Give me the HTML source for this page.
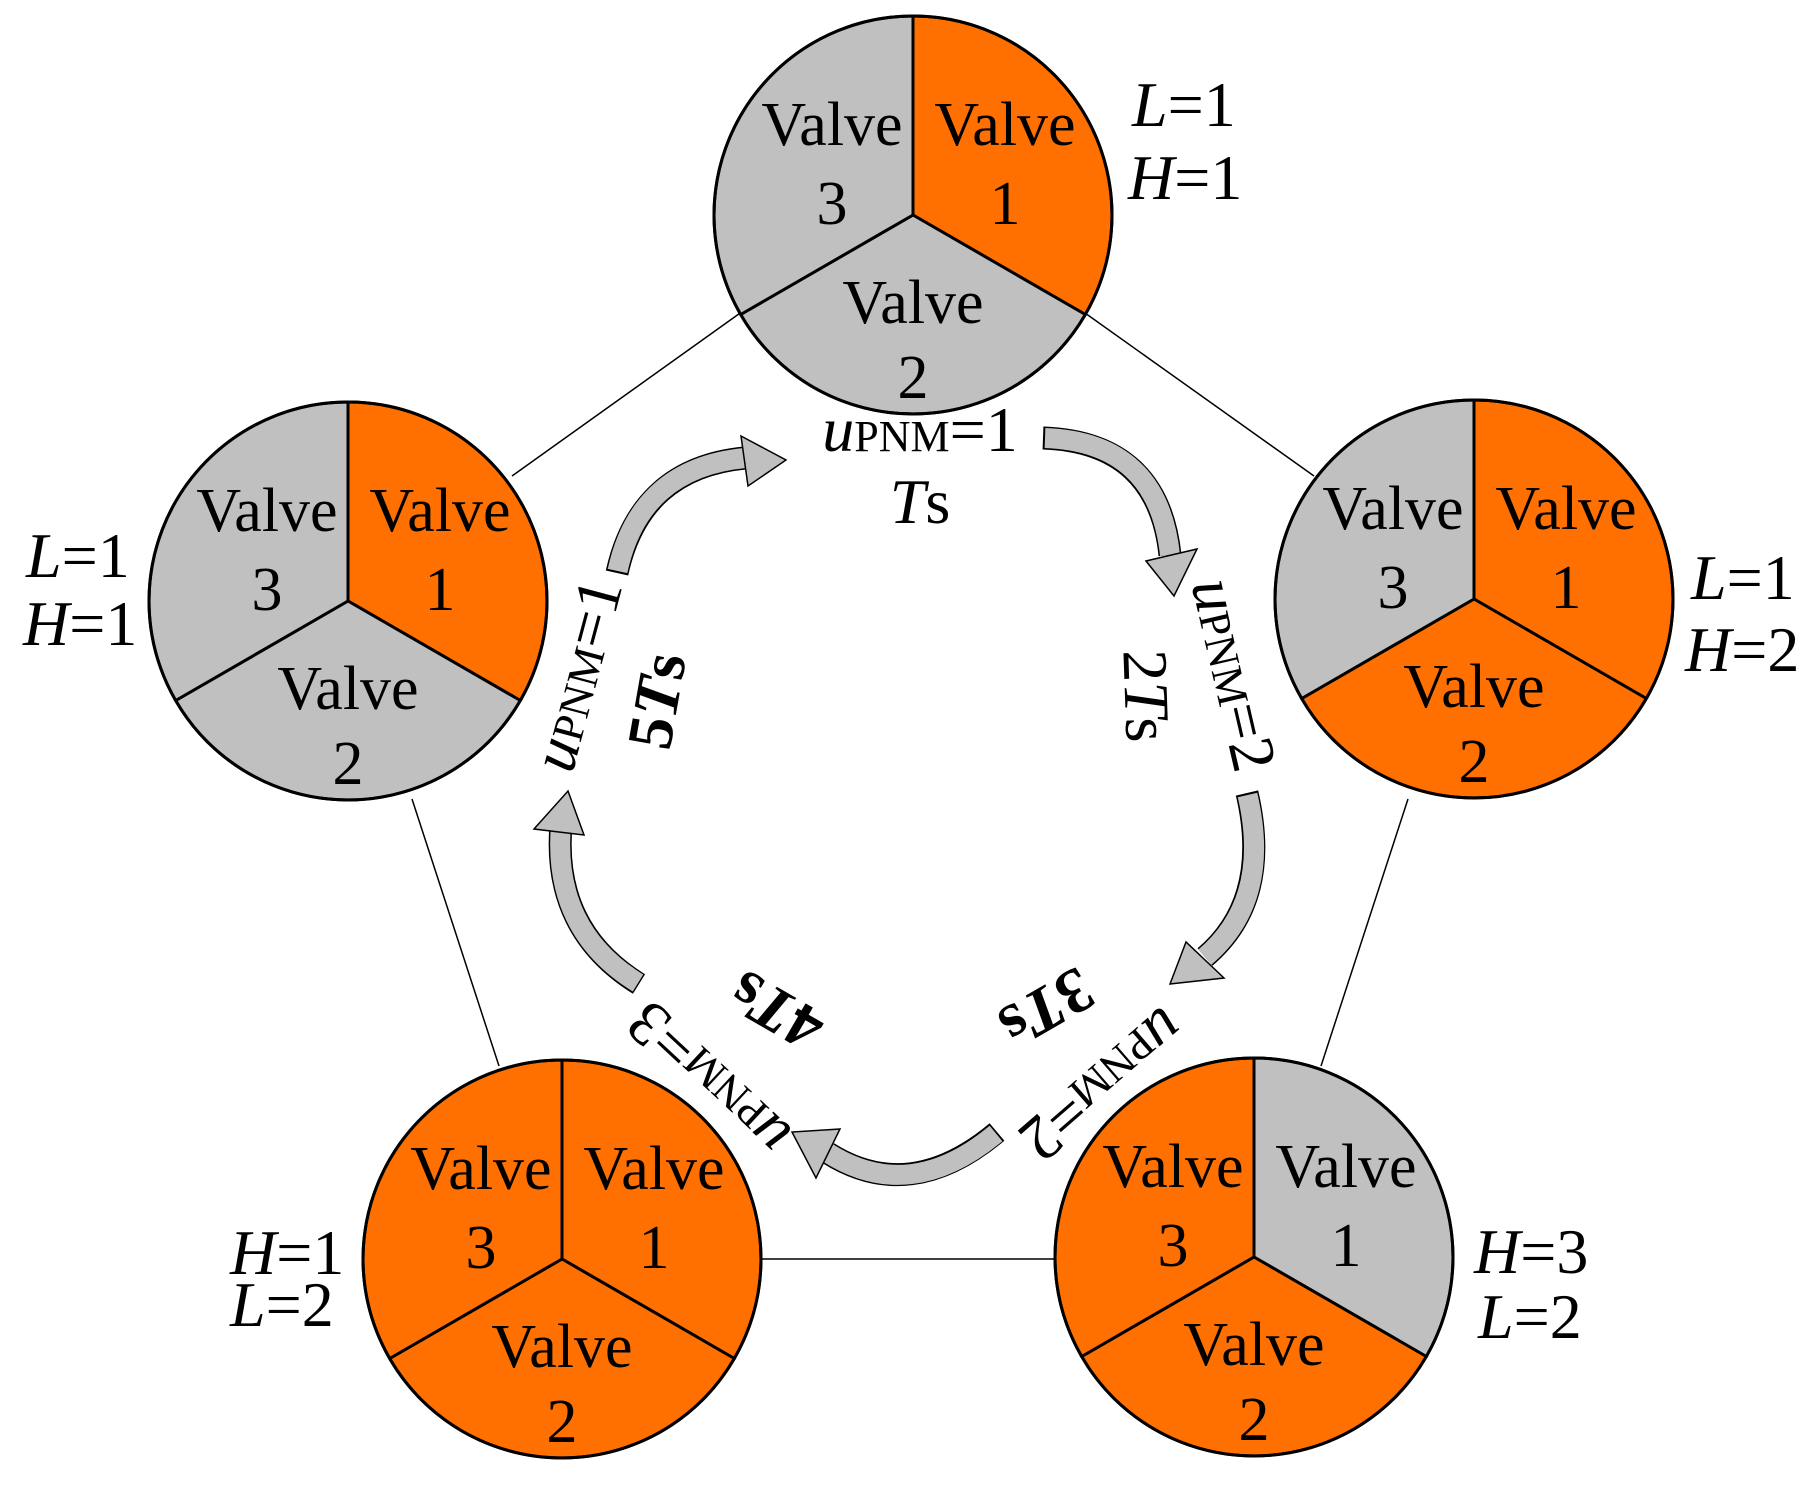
<!DOCTYPE html>
<html><head><meta charset="utf-8"><style>
html,body{margin:0;padding:0;background:#fff}
svg{display:block}
text{font-family:"Liberation Serif","Times New Roman",serif;fill:#000}
.v{font-size:62px;text-anchor:middle}
.s{font-size:64px}
.i{font-style:italic}
.r{font-size:64px;text-anchor:middle}
.b{font-weight:bold}
</style></head><body>
<svg width="1820" height="1486" viewBox="0 0 1820 1486" xmlns="http://www.w3.org/2000/svg" font-family="Liberation Serif, serif">
<g stroke="#000" stroke-width="1.5">
<line x1="743" y1="311" x2="512" y2="476"/>
<line x1="1085" y1="313" x2="1314" y2="476"/>
<line x1="412" y1="799" x2="499" y2="1066"/>
<line x1="1408" y1="799" x2="1321" y2="1066"/>
<line x1="760" y1="1259" x2="1054" y2="1259"/>
</g>
<g stroke="#000" stroke-width="3">
<path d="M913,215 L913,16 A199,199 0 0 1 1085.3,314.5 Z" fill="#FF7000"/>
<path d="M913,215 L1085.3,314.5 A199,199 0 0 1 740.7,314.5 Z" fill="#C0C0C0"/>
<path d="M913,215 L740.7,314.5 A199,199 0 0 1 913,16 Z" fill="#C0C0C0"/>
<circle cx="913" cy="215" r="199" fill="none"/>
<path d="M348,601 L348,402 A199,199 0 0 1 520.3,700.5 Z" fill="#FF7000"/>
<path d="M348,601 L520.3,700.5 A199,199 0 0 1 175.7,700.5 Z" fill="#C0C0C0"/>
<path d="M348,601 L175.7,700.5 A199,199 0 0 1 348,402 Z" fill="#C0C0C0"/>
<circle cx="348" cy="601" r="199" fill="none"/>
<path d="M1474,599 L1474,400 A199,199 0 0 1 1646.3,698.5 Z" fill="#FF7000"/>
<path d="M1474,599 L1646.3,698.5 A199,199 0 0 1 1301.7,698.5 Z" fill="#FF7000"/>
<path d="M1474,599 L1301.7,698.5 A199,199 0 0 1 1474,400 Z" fill="#C0C0C0"/>
<circle cx="1474" cy="599" r="199" fill="none"/>
<path d="M562,1259 L562,1060 A199,199 0 0 1 734.3,1358.5 Z" fill="#FF7000"/>
<path d="M562,1259 L734.3,1358.5 A199,199 0 0 1 389.7,1358.5 Z" fill="#FF7000"/>
<path d="M562,1259 L389.7,1358.5 A199,199 0 0 1 562,1060 Z" fill="#FF7000"/>
<circle cx="562" cy="1259" r="199" fill="none"/>
<path d="M1254,1257 L1254,1058 A199,199 0 0 1 1426.3,1356.5 Z" fill="#C0C0C0"/>
<path d="M1254,1257 L1426.3,1356.5 A199,199 0 0 1 1081.7,1356.5 Z" fill="#FF7000"/>
<path d="M1254,1257 L1081.7,1356.5 A199,199 0 0 1 1254,1058 Z" fill="#FF7000"/>
<circle cx="1254" cy="1257" r="199" fill="none"/>
</g>
<g>
<text x="1005" y="145" class="v">Valve</text><text x="1005" y="224" class="v">1</text>
<text x="832" y="145" class="v">Valve</text><text x="832" y="224" class="v">3</text>
<text x="913" y="323" class="v">Valve</text><text x="913" y="398" class="v">2</text>
<text x="440" y="531" class="v">Valve</text><text x="440" y="610" class="v">1</text>
<text x="267" y="531" class="v">Valve</text><text x="267" y="610" class="v">3</text>
<text x="348" y="709" class="v">Valve</text><text x="348" y="784" class="v">2</text>
<text x="1566" y="529" class="v">Valve</text><text x="1566" y="608" class="v">1</text>
<text x="1393" y="529" class="v">Valve</text><text x="1393" y="608" class="v">3</text>
<text x="1474" y="707" class="v">Valve</text><text x="1474" y="782" class="v">2</text>
<text x="654" y="1189" class="v">Valve</text><text x="654" y="1268" class="v">1</text>
<text x="481" y="1189" class="v">Valve</text><text x="481" y="1268" class="v">3</text>
<text x="562" y="1367" class="v">Valve</text><text x="562" y="1442" class="v">2</text>
<text x="1346" y="1187" class="v">Valve</text><text x="1346" y="1266" class="v">1</text>
<text x="1173" y="1187" class="v">Valve</text><text x="1173" y="1266" class="v">3</text>
<text x="1254" y="1365" class="v">Valve</text><text x="1254" y="1440" class="v">2</text>
</g>
<g>
<text x="1132" y="126" class="s"><tspan class="i">L</tspan>=1</text>
<text x="1128" y="199" class="s"><tspan class="i">H</tspan>=1</text>
<text x="26" y="577" class="s"><tspan class="i">L</tspan>=1</text>
<text x="23" y="645" class="s"><tspan class="i">H</tspan>=1</text>
<text x="1691" y="599" class="s"><tspan class="i">L</tspan>=1</text>
<text x="1685" y="671" class="s"><tspan class="i">H</tspan>=2</text>
<text x="230" y="1274" class="s"><tspan class="i">H</tspan>=1</text>
<text x="230" y="1326" class="s"><tspan class="i">L</tspan>=2</text>
<text x="1474" y="1273" class="s"><tspan class="i">H</tspan>=3</text>
<text x="1478" y="1338" class="s"><tspan class="i">L</tspan>=2</text>
</g>
<g fill="none" stroke-linecap="butt">
<g stroke="#000" stroke-width="23">
<path d="M617,573 Q640,468 745,458"/>
<path d="M1043,438 Q1158,442 1170,555"/>
<path d="M1247,793 Q1272,900 1205,957"/>
<path d="M997,1132 Q910,1205 828,1153"/>
<path d="M639,984 Q552,930 561,825"/>
</g>
<g stroke="#C0C0C0" stroke-width="20">
<path d="M617.5,571 Q640,468 745,458"/>
<path d="M1045,438 Q1158,442 1170,555"/>
<path d="M1247.5,795 Q1272,900 1205,957"/>
<path d="M996,1133.5 Q910,1205 828,1153"/>
<path d="M638,983 Q552,930 561,825"/>
</g>
</g>
<g fill="#C0C0C0" stroke="#000" stroke-width="1.5">
<polygon points="741,436 786,460 748,486"/>
<polygon points="1146,561 1174,596 1197,549"/>
<polygon points="1186,942 1170,984 1224,978"/>
<polygon points="840,1129 792,1132 816,1178"/>
<polygon points="534,829 568,791 584,835"/>
</g>
<text x="920" y="451" class="r"><tspan class="i">u</tspan><tspan font-size="44">PNM</tspan>=1</text>
<text x="920" y="523" class="r"><tspan class="i">T</tspan>s</text>
<g transform="translate(578,675) rotate(-75)"><text x="0" y="20" class="r"><tspan class="i">u</tspan><tspan font-size="44">PNM</tspan>=1</text></g>
<g transform="translate(658,701) rotate(-80)"><text x="0" y="20" class="r b">5<tspan class="i">T</tspan>s</text></g>
<g transform="translate(1233,675) rotate(77)"><text x="0" y="20" class="r"><tspan class="i">u</tspan><tspan font-size="44">PNM</tspan>=2</text></g>
<g transform="translate(1145,696) rotate(88)"><text x="0" y="20" class="r">2<tspan class="i">T</tspan>s</text></g>
<g transform="translate(1102,1084) rotate(139)"><text x="0" y="20" class="r"><tspan class="i">u</tspan><tspan font-size="44">PNM</tspan>=2</text></g>
<g transform="translate(1046,1007) rotate(150)"><text x="0" y="20" class="r b">3<tspan class="i">T</tspan>s</text></g>
<g transform="translate(709,1079) rotate(223)"><text x="0" y="20" class="r"><tspan class="i">u</tspan><tspan font-size="44">PNM</tspan>=3</text></g>
<g transform="translate(777,1010) rotate(210)"><text x="0" y="20" class="r b">4<tspan class="i">T</tspan>s</text></g>
</svg>
</body></html>
